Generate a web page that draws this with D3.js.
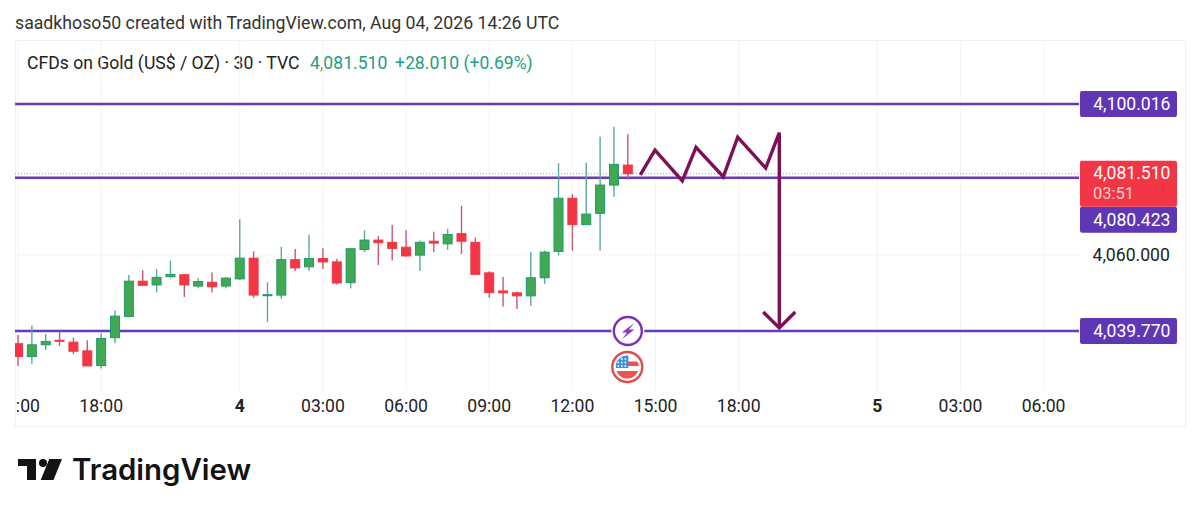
<!DOCTYPE html>
<html>
<head>
<meta charset="utf-8">
<script src="https://cdn.jsdelivr.net/npm/d3@7"></script>
<style>
  html, body { margin: 0; padding: 0; background: #fff; }
  svg { display: block; }
  text { font-family: Roboto, sans-serif; }
</style>
</head>
<body>
<div id="chart"></div>
<script>
const opens = [4036.4,4033.0,4036.1,4037.3,4036.8,4034.5,4030.6,4038.0,4043.6,4053.0,4052.0,4054.2,4054.7,4051.7,4052.7,4051.7,4053.6,4059.1,4049.3,4049.3,4058.7,4056.8,4059.0,4058.1,4052.6,4061.4,4063.9,4063.3,4062.0,4059.9,4063.6,4062.9,4065.6,4063.3,4055.2,4050.4,4049.9,4049.1,4053.9,4060.9,4075.0,4068.0,4071.0,4078.5,4083.8]
const highs = [4038.7,4041.2,4039.0,4039.6,4038.0,4037.3,4039.2,4045.2,4054.6,4055.9,4056.2,4058.4,4054.9,4053.8,4055.3,4054.1,4069.4,4060.9,4052.7,4062.1,4061.5,4065.3,4061.7,4058.9,4061.8,4066.5,4065.0,4067.9,4066.5,4063.8,4066.1,4066.9,4073.0,4064.6,4055.6,4054.1,4050.2,4060.8,4061.1,4084.3,4076.1,4084.4,4091.3,4094.0,4092.0]
const lows = [4030.5,4031.1,4034.7,4035.8,4033.6,4030.5,4029.8,4036.5,4043.6,4051.9,4050.0,4053.8,4048.8,4051.1,4050.0,4051.1,4053.3,4048.6,4042.2,4048.3,4055.7,4055.7,4056.2,4052.1,4051.1,4060.7,4057.3,4058.5,4059.5,4055.7,4060.7,4061.3,4060.2,4054.7,4048.6,4046.2,4045.6,4046.5,4052.3,4059.9,4061.1,4068.0,4061.1,4075.4,4080.0]
const closes = [4033.0,4036.1,4037.0,4037.1,4034.4,4030.5,4037.8,4043.7,4053.0,4051.9,4054.0,4054.8,4052.0,4052.9,4051.5,4053.8,4059.1,4049.3,4049.4,4058.7,4056.5,4059.0,4058.1,4052.5,4061.6,4063.9,4063.2,4061.7,4059.7,4063.3,4063.1,4065.4,4063.6,4054.8,4050.0,4049.9,4049.1,4053.9,4060.7,4075.0,4068.0,4070.8,4078.5,4084.0,4081.5]

const timeTickBars = [0,6,16,22,28,34,40,46,52,62,68,74]
const timeTickLabels = ['15:00','18:00','4','03:00','06:00','09:00','12:00','15:00','18:00','5','03:00','06:00']
const boldTicks = ['4','5']

const levels = [4100.016, 4080.423, 4039.770]
const levelLabels = ['4,100.016', '4,080.423', '4,039.770']
const lastPrice = 4081.51
const gridPrices = [4040, 4060, 4080, 4100]
const axisPrices = [4060]

const zigzagBars = [44.9,45.96,47.93,48.92,50.89,51.93,53.95,54.93,54.93]
const zigzagPrices = [4081.2,4087.8,4079.6,4088.5,4080.7,4091.2,4083.0,4092.4,4040.6]
const arrowBars = [53.77,54.93,56.08]
const arrowPrices = [4044.8,4040.6,4044.8]
const eventBar = 44

const width = 1200
const height = 515
const chart = {left: 15, right: 1185, top: 40, bottom: 426, plotRight: 1080, plotBottom: 391}
const fontSize = 17.6

const purple = '#673ab7'
const labelPurple = '#5f37b5'
const upColor = '#43a853'
const upEdge = '#1f9a6b'
const downColor = '#f23645'
const wickUp = '#5aa89f'
const wickDown = '#c9596c'
const drawColor = '#7f0f55'
const gridColor = '#f3f4f7'

const x = d3.scaleLinear().domain([0, 74]).range([18, 1043.6])
const y = d3.scaleLinear().domain([4039.77, 4100.016]).range([331, 104])

const svg = d3.select('#chart').append('svg')
  .attr('width', width)
  .attr('height', height)

svg.append('clipPath').attr('id', 'plot')
  .append('rect')
  .attr('x', chart.left)
  .attr('y', chart.top)
  .attr('width', chart.plotRight - chart.left)
  .attr('height', chart.plotBottom - chart.top)

svg.append('clipPath').attr('id', 'timeAxisClip')
  .append('rect')
  .attr('x', chart.left + 1.5)
  .attr('y', chart.plotBottom)
  .attr('width', chart.right - chart.left)
  .attr('height', chart.bottom - chart.plotBottom)

// header
svg.append('text')
  .attr('x', 15).attr('y', 29)
  .attr('font-size', fontSize + 0.1)
  .attr('fill', '#333')
  .text('saadkhoso50 created with TradingView.com, Aug 04, 2026 14:26 UTC')

svg.append('rect')
  .attr('x', chart.left + 0.5).attr('y', chart.top + 0.5)
  .attr('width', chart.right - chart.left).attr('height', chart.bottom - chart.top)
  .attr('fill', 'none')
  .attr('stroke', '#f0f1f4')

svg.append('text')
  .attr('x', 27).attr('y', 69)
  .attr('font-size', fontSize)
  .attr('fill', '#222')
  .text('CFDs on Gold (US$ / OZ) · 30 · TVC')

svg.append('text')
  .attr('x', 310).attr('y', 69)
  .attr('font-size', fontSize)
  .attr('fill', '#22a07c')
  .text('4,081.510')

svg.append('text')
  .attr('x', 395).attr('y', 69)
  .attr('font-size', fontSize)
  .attr('fill', '#22a07c')
  .text('+28.010 (+0.69%)')

// grid
const plot = svg.append('g').attr('clip-path', 'url(#plot)')

plot.selectAll('line.vgrid')
  .data(timeTickBars)
  .enter().append('line')
  .attr('class', 'vgrid')
  .attr('x1', d => x(d)).attr('x2', d => x(d))
  .attr('y1', chart.top).attr('y2', chart.plotBottom)
  .attr('stroke', gridColor)

plot.selectAll('line.hgrid')
  .data(gridPrices)
  .enter().append('line')
  .attr('class', 'hgrid')
  .attr('x1', chart.left).attr('x2', chart.plotRight)
  .attr('y1', d => y(d)).attr('y2', d => y(d))
  .attr('stroke', gridColor)

// levels under the candles
plot.selectAll('line.level')
  .data(levels)
  .enter().append('line')
  .attr('class', 'level')
  .attr('x1', chart.left).attr('x2', chart.plotRight - 1)
  .attr('y1', d => y(d)).attr('y2', d => y(d))
  .attr('stroke', purple)
  .attr('stroke-width', 2.6)

plot.append('line')
  .attr('x1', chart.left).attr('x2', chart.plotRight - 1)
  .attr('y1', y(lastPrice)).attr('y2', y(lastPrice))
  .attr('stroke', '#b59a9a')
  .attr('stroke-dasharray', '1 2')

// candles
const candles = plot.selectAll('g.candle')
  .data(opens.map((o, i) => ({i: i, o: o, h: highs[i], l: lows[i], c: closes[i]})))
  .enter().append('g')
  .attr('class', 'candle')

candles.append('line')
  .attr('x1', d => x(d.i)).attr('x2', d => x(d.i))
  .attr('y1', d => y(d.h)).attr('y2', d => y(d.l))
  .attr('stroke', d => d.c >= d.o ? wickUp : wickDown)
  .attr('stroke-width', 1.4)

candles.append('rect')
  .attr('x', d => x(d.i) - 4.5)
  .attr('width', 9)
  .attr('y', d => y(Math.max(d.o, d.c)))
  .attr('height', d => Math.max(1, Math.abs(y(d.o) - y(d.c))))
  .attr('fill', d => d.c >= d.o ? upColor : downColor)
  .attr('stroke', d => d.c >= d.o ? upEdge : downColor)
  .attr('stroke-width', 1)

// hand drawn zigzag and arrow
const priceLine = d3.line()
  .x(d => x(d[0]))
  .y(d => y(d[1]))

plot.append('path')
  .attr('d', priceLine(zigzagBars.map((b, i) => [b, zigzagPrices[i]])))
  .attr('fill', 'none')
  .attr('stroke', drawColor)
  .attr('stroke-width', 3.4)
  .attr('stroke-linejoin', 'miter')

plot.append('path')
  .attr('d', priceLine(arrowBars.map((b, i) => [b, arrowPrices[i]])))
  .attr('fill', 'none')
  .attr('stroke', drawColor)
  .attr('stroke-width', 3.4)

// event markers
const eventX = x(eventBar)
const eventY = y(levels[2])
const bolt = svg.append('g').attr('transform', `translate(${eventX},${eventY})`)

bolt.append('circle').attr('r', 16.5).attr('fill', '#fff')
bolt.append('circle').attr('r', 14)
  .attr('fill', '#fff')
  .attr('stroke', '#7b2fb5')
  .attr('stroke-width', 2.4)
bolt.append('path')
  .attr('d', 'M6.5,-8 L-6,1.5 L-0.8,1.5 L-5.5,8 L6.5,-1.5 L1,-1.5 Z')
  .attr('fill', '#8e35c9')

const flag = svg.append('g').attr('transform', `translate(${eventX - 0.5},${eventY + 36})`)

flag.append('clipPath').attr('id', 'flagClip')
  .append('circle').attr('r', 11.5)

flag.append('circle').attr('r', 15).attr('fill', '#fff')
  .attr('stroke', '#e5484d').attr('stroke-width', 2.4)

const flagBody = flag.append('g').attr('clip-path', 'url(#flagClip)')
flagBody.append('rect').attr('x', -12).attr('y', -12).attr('width', 24).attr('height', 24).attr('fill', '#fff')
flagBody.append('rect').attr('x', -12).attr('y', -5.5).attr('width', 24).attr('height', 4.5).attr('fill', '#ef5350')
flagBody.append('rect').attr('x', -12).attr('y', 4).attr('width', 24).attr('height', 8).attr('fill', '#ef5350')
flagBody.append('rect').attr('x', -12).attr('y', -12).attr('width', 13).attr('height', 13).attr('fill', '#3f8fe0')

flagBody.selectAll('circle.star')
  .data(d3.cross([-9, -5.5, -2], [-8, -4.5, -1]))
  .enter().append('circle')
  .attr('class', 'star')
  .attr('cx', d => d[0]).attr('cy', d => d[1])
  .attr('r', 0.9)
  .attr('fill', '#fff')

// time axis
const timeAxis = d3.axisBottom(x)
  .tickValues(timeTickBars)
  .tickSize(0)
  .tickPadding(0)
  .tickFormat((d, i) => timeTickLabels[i])

const timeG = svg.append('g')
  .attr('clip-path', 'url(#timeAxisClip)')
  .append('g')
  .attr('transform', 'translate(-0.5,399)')
  .call(timeAxis)

timeG.select('.domain').remove()
timeG.selectAll('text')
  .attr('font-size', fontSize)
  .attr('font-family', 'Roboto, sans-serif')
  .attr('fill', '#222')
  .attr('font-weight', (d, i) => boldTicks.includes(timeTickLabels[i]) ? 700 : 400)

// price axis
const priceAxis = d3.axisRight(y)
  .tickValues(axisPrices)
  .tickSize(0)
  .tickPadding(0)
  .tickFormat(d3.format(',.3f'))

const priceG = svg.append('g')
  .attr('transform', 'translate(1092.5,0)')
  .call(priceAxis)

priceG.select('.domain').remove()
priceG.selectAll('text')
  .attr('font-size', fontSize)
  .attr('font-family', 'Roboto, sans-serif')
  .attr('fill', '#222')

// price labels, the one that collides with the last price is pushed below it
const lastTop = y(lastPrice) - 13
const lastHeight = 46
const labelHeight = 26
const labelCenter = d => {
  const c = y(d)
  return Math.abs(c - y(lastPrice)) < lastHeight ? lastTop + lastHeight + labelHeight / 2 : c
}

const labels = svg.selectAll('g.label')
  .data(levels)
  .enter().append('g')
  .attr('class', 'label')
  .attr('transform', d => `translate(1080,${labelCenter(d)})`)

labels.append('rect')
  .attr('y', -labelHeight / 2).attr('width', 97).attr('height', labelHeight)
  .attr('rx', 2)
  .attr('fill', labelPurple)

labels.append('text')
  .attr('x', 90.5).attr('y', 6)
  .attr('text-anchor', 'end')
  .attr('font-size', fontSize)
  .attr('fill', '#fff')
  .text((d, i) => levelLabels[i])

const last = svg.append('g').attr('transform', `translate(1080,${y(lastPrice)})`)
last.append('rect')
  .attr('y', -13).attr('width', 97).attr('height', lastHeight)
  .attr('rx', 2)
  .attr('fill', '#f23645')
last.append('text')
  .attr('x', 90.5).attr('y', 5)
  .attr('text-anchor', 'end')
  .attr('font-size', fontSize)
  .attr('fill', '#fff')
  .text('4,081.510')
last.append('text')
  .attr('x', 13).attr('y', 25)
  .attr('font-size', 16.5)
  .attr('fill', '#fff')
  .attr('fill-opacity', 0.75)
  .text('03:51')

// logo
const logo = svg.append('g').attr('fill', '#131313')
logo.append('path').attr('d', 'M18,459 H36 V480 H27 V466 H18 Z')
logo.append('circle').attr('cx', 43).attr('cy', 463).attr('r', 4)
logo.append('path').attr('d', 'M49.3,459 H62 L53.5,480 H40.7 Z')

svg.append('text')
  .attr('x', 72).attr('y', 480)
  .attr('font-size', 29.4)
  .attr('font-weight', 600)
  .attr('fill', '#131313')
  .style('font-family', 'Inter, sans-serif')
  .text('TradingView')
</script>
</body>
</html>
